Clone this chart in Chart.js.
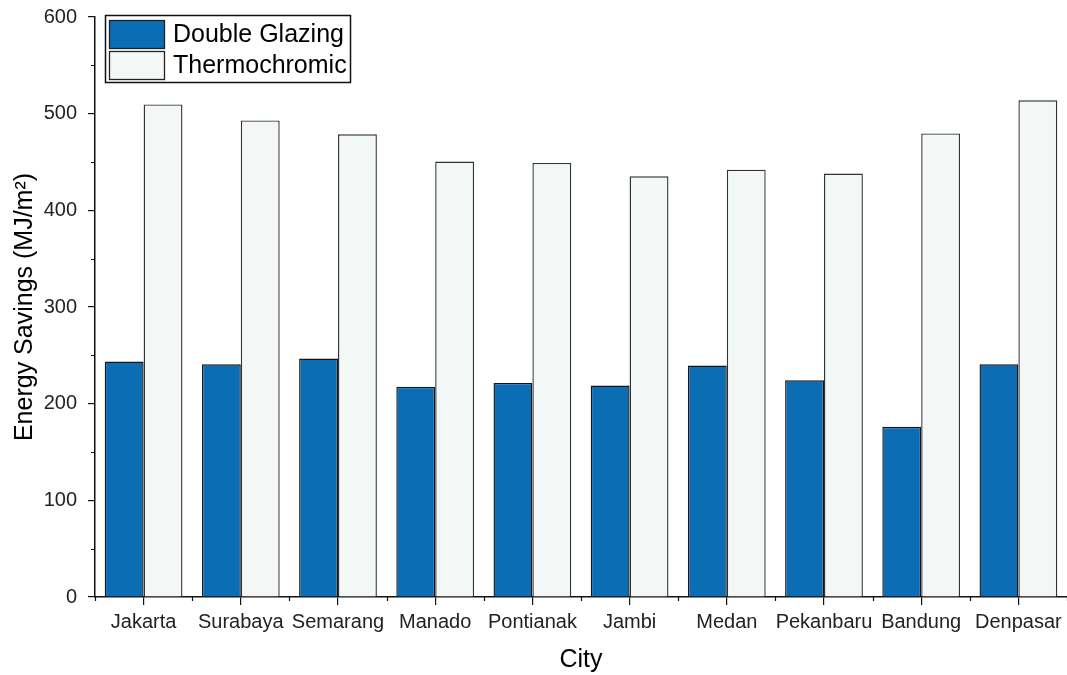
<!DOCTYPE html>
<html>
<head>
    <style>
        html, body { margin: 0; padding: 0; background: #fff; }
        #chart-container { width: 1067px; height: 675px; }
    </style>
    <script src="https://cdn.jsdelivr.net/npm/chart.js"></script>
</head>
<body>
    <div id="chart-container">
        <canvas id="savingsChart" width="1067" height="675"></canvas>
    </div>

    <script>
        // Energy savings per city (MJ/m²)
        const cities = ['Jakarta', 'Surabaya', 'Semarang', 'Manado', 'Pontianak', 'Jambi', 'Medan', 'Pekanbaru', 'Bandung', 'Denpasar'];
        const doubleGlazing = [243.5, 240.7, 246.6, 217.4, 221.5, 218.7, 239.4, 224.2, 176.0, 240.7];
        const thermochromic = [509.6, 493.0, 478.7, 450.4, 449.0, 435.2, 442.1, 438.0, 479.6, 513.8];
        const yTicks = [0, 100, 200, 300, 400, 500, 600];

        const FONT = 'Arial, "Liberation Sans", sans-serif';
        const AXIS = '#111';

        // minor ticks: every 50 on y, category boundaries on x
        const minorTicks = {
            id: 'minorTicks',
            afterDraw(chart) {
                const c = chart.ctx, a = chart.chartArea;
                const x = chart.scales.x, y = chart.scales.y;
                c.save();
                c.strokeStyle = AXIS;
                c.lineWidth = 1.2;
                c.beginPath();
                for (let v = 50; v < 600; v += 100) {
                    const py = Math.round(y.getPixelForValue(v)) + 0.5;
                    c.moveTo(a.left, py);
                    c.lineTo(a.left - 4, py);
                }
                for (let i = 0; i <= cities.length; i++) {
                    const px = Math.round(x.getPixelForValue(i - 0.5)) + 0.5;
                    c.moveTo(px, a.bottom);
                    c.lineTo(px, a.bottom + 4);
                }
                c.stroke();
                c.restore();
            }
        };

        // boxed legend sitting in the top-left corner of the plot
        const boxLegend = {
            id: 'boxLegend',
            afterDraw(chart) {
                const c = chart.ctx, a = chart.chartArea;
                const x0 = a.left + 10, y0 = a.top - 2;
                c.save();
                c.lineWidth = 1.5;
                c.strokeStyle = AXIS;
                c.fillStyle = '#fff';
                c.fillRect(x0, y0, 245, 67);
                c.strokeRect(x0 + 0.5, y0 + 0.5, 245, 67);
                c.font = '25px ' + FONT;
                c.textBaseline = 'middle';
                chart.data.datasets.forEach((ds, i) => {
                    const sy = y0 + 5 + i * 31;
                    c.fillStyle = ds.backgroundColor;
                    c.fillRect(x0 + 4, sy, 55, 28);
                    c.lineWidth = 1.3;
                    c.strokeStyle = '#222';
                    c.strokeRect(x0 + 4.5, sy + 0.5, 55, 28);
                    c.fillStyle = '#000';
                    c.fillText(ds.label, x0 + 68, sy + 15);
                });
                c.restore();
            }
        };

        const ctx = document.getElementById('savingsChart').getContext('2d');
        new Chart(ctx, {
            type: 'bar',
            data: {
                labels: cities,
                datasets: [{
                    label: 'Double Glazing',
                    data: doubleGlazing,
                    backgroundColor: '#0b6db3',
                    borderColor: '#151515',
                    borderWidth: 1.4,
                    barPercentage: 1.0,
                    categoryPercentage: 0.8
                }, {
                    label: 'Thermochromic',
                    data: thermochromic,
                    backgroundColor: '#f3f8f6',
                    borderColor: '#333',
                    borderWidth: 1.4,
                    barPercentage: 1.0,
                    categoryPercentage: 0.8
                }]
            },
            options: {
                responsive: false,
                animation: false,
                layout: { padding: { top: 17, right: 0, left: 0, bottom: 0 } },
                plugins: {
                    legend: { display: false },
                    tooltip: { enabled: false }
                },
                scales: {
                    x: {
                        offset: true,
                        grid: { display: true, offset: false, drawOnChartArea: false, drawTicks: true, tickLength: 8, color: AXIS, lineWidth: 1.2 },
                        border: { display: true, color: AXIS, width: 1.5 },
                        ticks: { font: { family: FONT, size: 20 }, color: '#222', padding: 5, maxRotation: 0, autoSkip: false },
                        title: { display: true, text: 'City', font: { family: FONT, size: 25 }, color: '#000', padding: { top: 0, bottom: 0 } },
                        afterFit(scale) { scale.height = 78; scale.paddingLeft = 0; scale.paddingRight = 0; }
                    },
                    y: {
                        min: yTicks[0],
                        max: yTicks[yTicks.length - 1],
                        afterBuildTicks(scale) { scale.ticks = yTicks.map(v => ({ value: v })); },
                        grid: { display: true, drawOnChartArea: false, drawTicks: true, tickLength: 7, color: AXIS, lineWidth: 1.2 },
                        border: { display: true, color: AXIS, width: 1.5 },
                        ticks: { font: { family: FONT, size: 20 }, color: '#222', padding: 11 },
                        title: { display: true, text: 'Energy Savings (MJ/m²)', font: { family: FONT, size: 25 }, color: '#000', padding: { top: 10, bottom: 0 } },
                        afterFit(scale) { scale.width = 95; scale.paddingTop = 0; scale.paddingBottom = 0; }
                    }
                }
            },
            plugins: [minorTicks, boxLegend]
        });
    </script>
</body>
</html>
